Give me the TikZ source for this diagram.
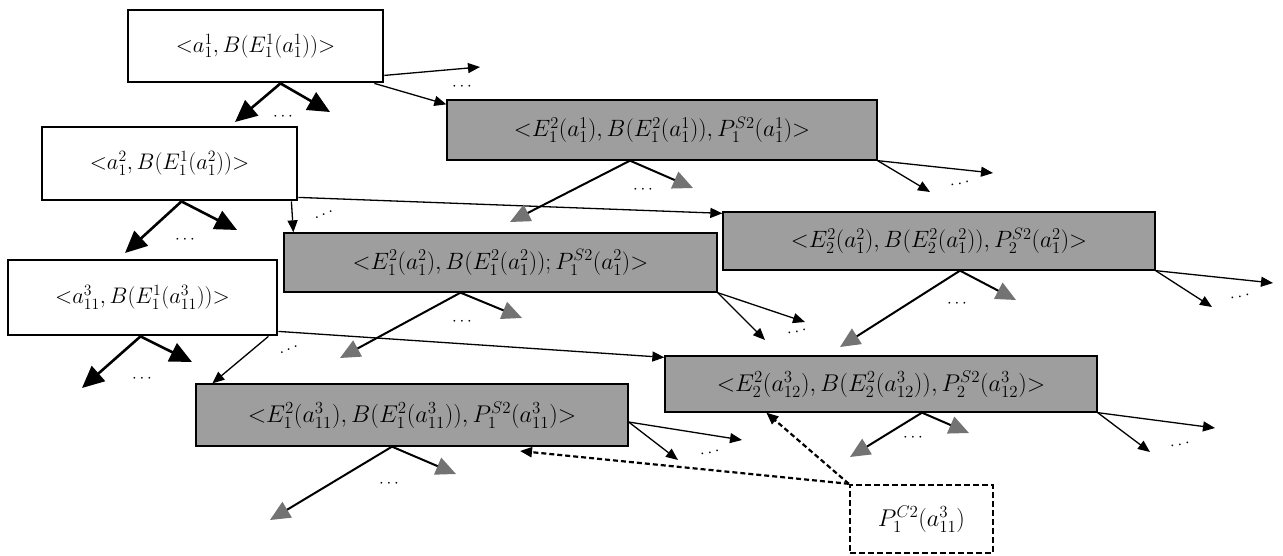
\RequirePackage{fix-cm}
\documentclass[tikz,border=0pt]{standalone}
\usetikzlibrary{arrows.meta}
\newcommand\wfont{\fontsize{22.5}{26}\selectfont}
\newcommand\gfont{\fontsize{23.6}{27}\selectfont}
\newcommand\gbfont{\fontsize{24.2}{28}\selectfont}
\begin{document}
\begin{tikzpicture}[x=1pt,y=-1pt,
  wbox/.style={draw, line width=2.8pt, fill=white, inner sep=0pt, font=\wfont},
  gbox/.style={draw, line width=1.3pt, fill=black!38, inner sep=0pt, font=\gfont},
  dbox/.style={draw, line width=2.4pt, dash pattern=on 6pt off 3pt, fill=white, inner sep=0pt, font=\gbfont},
  bigarr/.style={line width=2.6pt, -{Triangle[length=22pt,width=20pt]}},
  grayarr/.style={line width=2pt, -{Triangle[length=20pt,width=18pt,color=black!55]}},
  thinarr/.style={line width=1.3pt, -{Triangle[length=12pt,width=10pt]}},
  dasharr/.style={line width=2.2pt, dash pattern=on 5pt off 3pt, -{Triangle[length=12pt,width=10pt]}},
  dotsn/.style={inner sep=0pt, font=\fontsize{17}{17}\selectfont}
]
\fill[white] (0,0) rectangle (1283,555);
\useasboundingbox (0,0) rectangle (1283,555);

% boxes
\node[wbox, minimum width=255pt, minimum height=72pt] (A) at (255.5,46) {${<}a_1^1, B(E_1^1(a_1^1)){>}$};
\node[wbox, minimum width=255pt, minimum height=73pt] (B) at (169.5,163.5) {${<}a_1^2, B(E_1^1(a_1^2)){>}$};
\node[wbox, minimum width=269pt, minimum height=75pt] (C) at (142.5,297.5) {${<}a_{11}^3, B(E_1^1(a_{11}^3)){>}$};
\node[gbox, minimum width=430pt, minimum height=60pt] (D) at (662,130) {${<}E_1^2(a_1^1), B(E_1^2(a_1^1)), P_1^{S2}(a_1^1){>}$};
\node[gbox, minimum width=433pt, minimum height=59pt] (E) at (500.5,262.5) {${<}E_1^2(a_1^2), B(E_1^2(a_1^2)); P_1^{S2}(a_1^2){>}$};
\node[gbox, minimum width=432pt, minimum height=58pt] (F) at (939,241) {${<}E_2^2(a_1^2), B(E_2^2(a_1^2)), P_2^{S2}(a_1^2){>}$};
\node[gbox, font=\gbfont, minimum width=432pt, minimum height=56pt] (G) at (881,384) {${<}E_2^2(a_{12}^3), B(E_2^2(a_{12}^3)), P_2^{S2}(a_{12}^3){>}$};
\node[gbox, font=\gbfont, minimum width=432pt, minimum height=62pt] (H) at (412,415) {${<}E_1^2(a_{11}^3), B(E_1^2(a_{11}^3)), P_1^{S2}(a_{11}^3){>}$};
\node[dbox, minimum width=143pt, minimum height=68pt] (I) at (921.5,519) {$P_1^{C2}(a_{11}^3)$};

% free arrow ends
\coordinate (tA1) at (235,122); \coordinate (tA2) at (330,112); \coordinate (tA3) at (480,67);
\coordinate (tB1) at (125,253); \coordinate (tB2) at (237,230);
\coordinate (tC1) at (82,388);  \coordinate (tC2) at (192,362);
\coordinate (tD1) at (510,222); \coordinate (tD2) at (693,188); \coordinate (tD3) at (993,173); \coordinate (tD4) at (930,192);
\coordinate (tE1) at (340,358); \coordinate (tE2) at (522,318); \coordinate (tE3) at (805,322); \coordinate (tE4) at (765,340);
\coordinate (tF1) at (840,347); \coordinate (tF2) at (1016,300); \coordinate (tF3) at (1273,283); \coordinate (tF4) at (1212,307);
\coordinate (tG1) at (850,457); \coordinate (tG2) at (969,433); \coordinate (tG3) at (1215,428); \coordinate (tG4) at (1150,452);
\coordinate (tH1) at (270,520); \coordinate (tH2) at (456,474); \coordinate (tH3) at (742,440); \coordinate (tH4) at (678,460);
\coordinate (tI1) at (520,451);

% dots
\node[dotsn] (dA1) at (283,117) {$\cdots$};
\node[dotsn] (dA2) at (462,87) {$\cdots$};
\node[dotsn] (dB1) at (185,240) {$\cdots$};
\node[dotsn, rotate=25] (dB2) at (324,215) {$\cdots$};
\node[dotsn] (dC1) at (142,379) {$\cdots$};
\node[dotsn, rotate=25] (dC2) at (289,350) {$\cdots$};
\node[dotsn] (dD1) at (643,190) {$\cdots$};
\node[dotsn, rotate=10] (dD2) at (960,184) {$\cdots$};
\node[dotsn] (dE1) at (462,322) {$\cdots$};
\node[dotsn, rotate=10] (dE2) at (797,332) {$\cdots$};
\node[dotsn] (dF1) at (957,304) {$\cdots$};
\node[dotsn, rotate=10] (dF2) at (1240,297) {$\cdots$};
\node[dotsn] (dG1) at (913,438) {$\cdots$};
\node[dotsn, rotate=10] (dG2) at (1180,445) {$\cdots$};
\node[dotsn] (dH1) at (389,484) {$\cdots$};
\node[dotsn, rotate=10] (dH2) at (710,453) {$\cdots$};

% A
\draw[bigarr] ([xshift=25pt]A.south) -- (tA1);
\draw[bigarr] ([xshift=25pt]A.south) -- (tA2);
\draw[thinarr] ([yshift=8pt]A.south east) -- (tA3);
\draw[thinarr] ([xshift=-10pt]A.south east) -- ([yshift=-5pt]D.north west);
% B
\draw[bigarr] ([xshift=12pt]B.south) -- (tB1);
\draw[bigarr] ([xshift=12pt]B.south) -- (tB2);
\draw[thinarr] ([yshift=4pt]B.south east) -- ([yshift=-2pt]F.north west);
\draw[thinarr] ([xshift=-7pt]B.south east) -- ([xshift=10pt]E.north west);
% C
\draw[bigarr] ([xshift=-2pt]C.south) -- (tC1);
\draw[bigarr] ([xshift=-2pt]C.south) -- (tC2);
\draw[thinarr] ([yshift=5pt]C.south east) -- ([yshift=-2pt]G.north west);
\draw[thinarr] ([xshift=-10pt]C.south east) -- ([xshift=17pt]H.north west);
% D
\draw[grayarr] ([xshift=-32pt]D.south) -- (tD1);
\draw[grayarr] ([xshift=-32pt]D.south) -- (tD2);
\draw[thinarr] (D.south east) -- (tD3);
\draw[thinarr] (D.south east) -- (tD4);
% E
\draw[grayarr] ([xshift=-40pt]E.south) -- (tE1);
\draw[grayarr] ([xshift=-40pt]E.south) -- (tE2);
\draw[thinarr] (E.south east) -- (tE3);
\draw[thinarr] (E.south east) -- (tE4);
% F
\draw[grayarr] ([xshift=21pt]F.south) -- (tF1);
\draw[grayarr] ([xshift=21pt]F.south) -- (tF2);
\draw[thinarr] (F.south east) -- (tF3);
\draw[thinarr] (F.south east) -- (tF4);
% G
\draw[grayarr] ([xshift=41pt]G.south) -- (tG1);
\draw[grayarr] ([xshift=41pt]G.south) -- (tG2);
\draw[thinarr] (G.south east) -- (tG3);
\draw[thinarr] (G.south east) -- (tG4);
% H
\draw[grayarr] ([xshift=-20pt]H.south) -- (tH1);
\draw[grayarr] ([xshift=-20pt]H.south) -- (tH2);
\draw[thinarr] ([yshift=-7pt]H.east) -- (tH3);
\draw[thinarr] ([yshift=-7pt]H.east) -- (tH4);
% dashed from I
\draw[dasharr] (I.north west) -- (tI1);
\draw[dasharr] (I.north west) -- ([xshift=102pt]G.south west);
\end{tikzpicture}
\end{document}
